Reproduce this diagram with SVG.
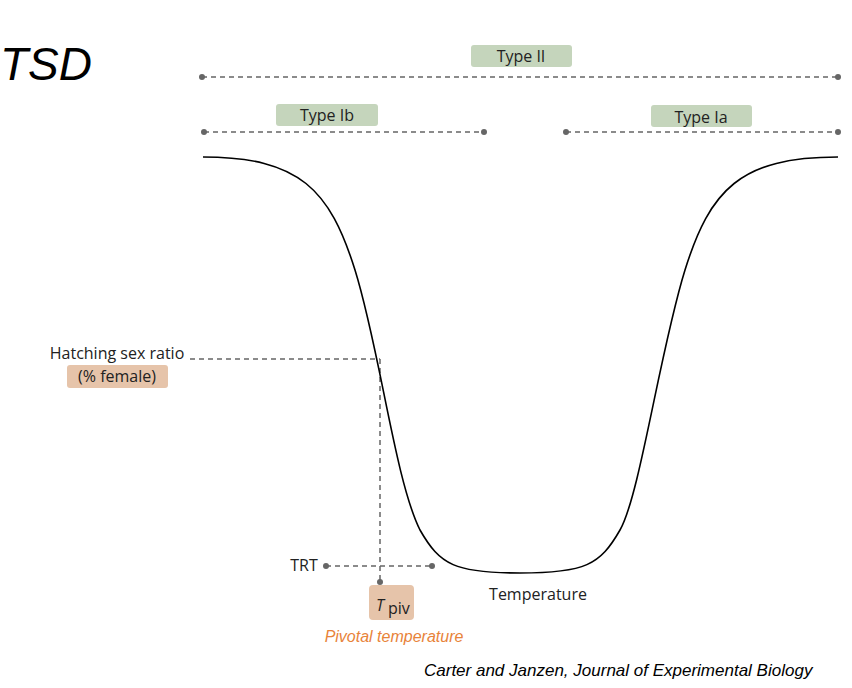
<svg xmlns="http://www.w3.org/2000/svg" width="852" height="688" viewBox="0 0 852 688">
<style>
.d{stroke:#666;stroke-width:1.5;stroke-dasharray:5,4;fill:none}
.dot{fill:#666}
.g{fill:#c5d5bc}
.t{font-family:"Open Sans","DejaVu Sans",sans-serif;font-size:16px;fill:#222}
</style>
<rect width="852" height="688" fill="#fff"/>
<text x="0" y="80" font-family="Liberation Sans,sans-serif" font-style="italic" font-size="46" fill="#000">TSD</text>
<g id="connectors">
<line class="d" x1="202" y1="77" x2="838" y2="77"/>
<line class="d" x1="204" y1="132" x2="484" y2="132"/>
<line class="d" x1="566" y1="132" x2="838" y2="132" stroke-dasharray="4,3" stroke-width="1"/>
<line class="d" x1="190" y1="359" x2="380" y2="359"/>
<line class="d" x1="380" y1="359" x2="380" y2="582"/>
<line class="d" x1="326" y1="566" x2="432" y2="566"/>
<circle class="dot" cx="202" cy="77" r="3"/><circle class="dot" cx="838" cy="77" r="3"/>
<circle class="dot" cx="204" cy="132" r="3"/><circle class="dot" cx="484" cy="132" r="3"/>
<circle class="dot" cx="566" cy="132" r="3"/><circle class="dot" cx="838" cy="132" r="3"/>
<circle class="dot" cx="326" cy="566" r="3"/><circle class="dot" cx="432" cy="566" r="3"/>
<circle class="dot" cx="380" cy="582" r="3"/>
</g>
<path id="curve" d="M203,157 C300,157 330,190 355,270 S395,480 420,530 C440,565 455,573 520,573 C585,573 600,565 620,530 S660,350 685,270 C710,190 740,157 838,157" fill="none" stroke="#000" stroke-width="1.6"/>
<g id="type2"><rect class="g" x="471" y="45" width="101" height="22" rx="3"/><text class="t" x="521" y="62" text-anchor="middle">Type II</text></g>
<g id="type1b"><rect class="g" x="276" y="104" width="102" height="22" rx="3"/><text class="t" x="327" y="121" text-anchor="middle">Type Ib</text></g>
<g id="type1a"><rect class="g" x="651" y="105" width="101" height="22" rx="3"/><text class="t" x="701" y="123" text-anchor="middle">Type Ia</text></g>
<g id="ratio"><text class="t" x="117" y="359" text-anchor="middle">Hatching sex ratio</text><rect x="67" y="365" width="101" height="23" rx="3" fill="#e6c4aa"/><text class="t" x="117" y="382" text-anchor="middle">(% female)</text></g>
<g id="trt"><text class="t" x="304" y="571" text-anchor="middle">TRT</text></g>
<g id="tpiv"><rect x="369" y="585" width="45" height="35" rx="4" fill="#e6c4aa"/><text class="t" x="376" y="611" font-style="italic" font-size="19">T</text><text class="t" x="388" y="614" font-size="14">piv</text></g>
<text x="394" y="642" text-anchor="middle" font-family="Liberation Sans,sans-serif" font-style="italic" font-size="16" fill="#e8833a">Pivotal temperature</text>
<text class="t" x="538" y="600" text-anchor="middle">Temperature</text>
<text x="424" y="676" font-family="Liberation Sans,sans-serif" font-style="italic" font-size="17" fill="#000">Carter and Janzen, Journal of Experimental Biology</text>
</svg>
